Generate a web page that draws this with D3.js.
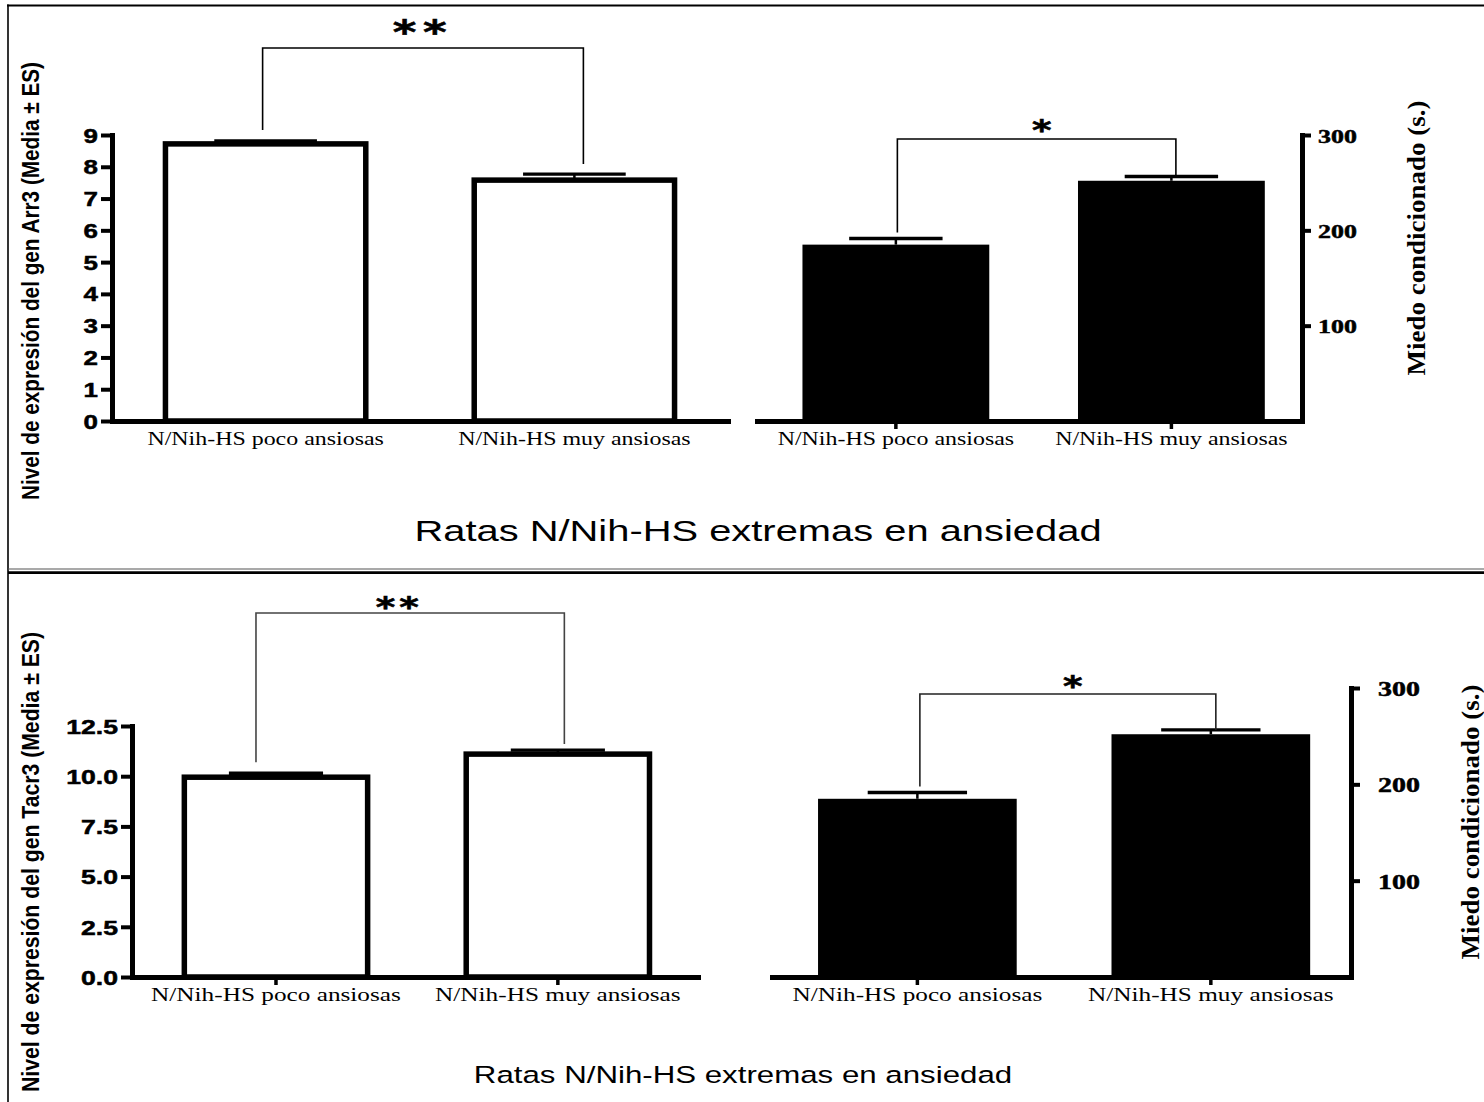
<!DOCTYPE html>
<html lang="es">
<head>
<meta charset="utf-8">
<title>Arr3 / Tacr3 y miedo condicionado</title>
<script src="https://cdn.jsdelivr.net/npm/d3@7"></script>
<style>
  html, body { margin: 0; padding: 0; background: #fff; }
  svg { display: block; }
</style>
</head>
<body>
<script>
// ---- data ----
const groups = ["N/Nih-HS poco ansiosas", "N/Nih-HS muy ansiosas"];
const arr3Mean = [8.72, 7.58];
const arr3Sem = [0.09, 0.19];
const tacr3Mean = [9.95, 11.1];
const tacr3Sem = [0.2, 0.2];
const fearMean = [185, 252];
const fearSem = [6.5, 4.5];
const arr3Ticks = [0, 1, 2, 3, 4, 5, 6, 7, 8, 9];
const tacr3Ticks = [0, 2.5, 5, 7.5, 10, 12.5];
const fearTicks = [100, 200, 300];
const arr3Label = "Nivel de expresión del gen Arr3 (Media ± ES)";
const tacr3Label = "Nivel de expresión del gen Tacr3 (Media ± ES)";
const fearLabel = "Miedo condicionado (s.)";
const groupTitle = "Ratas N/Nih-HS extremas en ansiedad";
const arr3Sig = "**";
const tacr3Sig = "**";
const fearSig = "*";

// ---- layout ----
const W = 1484, H = 1102;
const SX = 1.33;           // horizontal widening applied to all upright text
const SANS = "'Liberation Sans', Arial, Helvetica, sans-serif";
const SERIF = "'Liberation Serif', 'Times New Roman', Times, serif";
const STAR = "'DejaVu Sans', sans-serif";

const svg = d3.select("body").append("svg")
  .attr("width", W).attr("height", H)
  .attr("viewBox", `0 0 ${W} ${H}`);

svg.append("rect").attr("width", W).attr("height", H).attr("fill", "#fff");

// frame and divider between the two figures
svg.append("line").attr("x1", 7).attr("x2", W).attr("y1", 5.5).attr("y2", 5.5)
  .attr("stroke", "#000").attr("stroke-width", 2);
svg.append("line").attr("x1", 8).attr("x2", 8).attr("y1", 4.5).attr("y2", H)
  .attr("stroke", "#000").attr("stroke-width", 1.6);
svg.append("line").attr("x1", 8).attr("x2", W).attr("y1", 569).attr("y2", 569)
  .attr("stroke", "#555").attr("stroke-width", 1.2);
svg.append("line").attr("x1", 8).attr("x2", W).attr("y1", 572.6).attr("y2", 572.6)
  .attr("stroke", "#000").attr("stroke-width", 2.6);

function wideText(parent, str, cx, cy, opts) {
  return parent.append("text")
    .attr("transform", `translate(${cx},${cy}) scale(${opts.sx || SX},1)`)
    .attr("text-anchor", opts.anchor || "middle")
    .attr("font-family", opts.family)
    .attr("font-weight", opts.weight || "normal")
    .attr("font-size", opts.size)
    .attr("letter-spacing", opts.spacing || 0)
    .attr("stroke", opts.stroke ? "#000" : "none")
    .attr("stroke-width", opts.stroke || 0)
    .attr("fill", "#000")
    .text(str);
}

function verticalTitle(parent, str, cx, cy, opts) {
  return parent.append("text")
    .attr("transform", `translate(${cx},${cy}) scale(${opts.thick},1) rotate(-90)`)
    .attr("text-anchor", "middle")
    .attr("dominant-baseline", "central")
    .attr("font-family", opts.family)
    .attr("font-weight", "bold")
    .attr("font-size", opts.size)
    .attr("textLength", opts.length)
    .attr("lengthAdjust", "spacingAndGlyphs")
    .attr("fill", "#000")
    .text(str);
}

function drawPanel(p) {
  const g = svg.append("g");
  const x = d3.scaleBand().domain(groups)
    .range([p.x0, p.x1]).paddingInner(p.pi).paddingOuter(p.po).align(p.align);
  const y = d3.scaleLinear().domain([0, p.ticks[p.ticks.length - 1]])
    .range([p.yBase, p.yTop]);
  const bw = x.bandwidth();
  const cx = i => x(groups[i]) + bw / 2;

  // bars
  const inset = p.filled ? 0 : 2.5;
  g.selectAll("rect.bar").data(p.mean).join("rect")
    .attr("class", "bar")
    .attr("x", (d, i) => x(groups[i]) + inset)
    .attr("width", bw - 2 * inset)
    .attr("y", d => y(d))
    .attr("height", d => y(0) - y(d))
    .attr("fill", p.filled ? "#000" : "#fff")
    .attr("stroke", p.filled ? "none" : "#000")
    .attr("stroke-width", p.filled ? 0 : 5.5);

  // standard-error whiskers
  g.selectAll("line.stem").data(p.mean).join("line")
    .attr("x1", (d, i) => cx(i)).attr("x2", (d, i) => cx(i))
    .attr("y1", d => y(d)).attr("y2", (d, i) => y(d + p.sem[i]))
    .attr("stroke", "#000").attr("stroke-width", 2.5);
  g.selectAll("line.cap").data(p.mean).join("line")
    .attr("x1", (d, i) => cx(i) - bw / 4).attr("x2", (d, i) => cx(i) + bw / 4)
    .attr("y1", (d, i) => y(d + p.sem[i])).attr("y2", (d, i) => y(d + p.sem[i]))
    .attr("stroke", "#000").attr("stroke-width", 3.4);

  // category axis
  const xa = d3.axisBottom(x).tickSize(p.xTick).tickSizeOuter(0);
  const xg = g.append("g").attr("transform", `translate(0,${p.yBase})`).call(xa)
    .attr("font-family", null).attr("font-size", null);
  xg.select(".domain").attr("stroke-width", 5).attr("stroke-linecap", "square");
  xg.selectAll(".tick line").attr("stroke-width", 3.5);
  xg.selectAll(".tick text")
    .attr("y", 24).attr("dy", null)
    .attr("font-family", SERIF).attr("font-size", p.catSize).attr("fill", "#000")
    .attr("transform", `scale(${SX},1)`);

  // value axis
  const right = p.side === "right";
  const ya = (right ? d3.axisRight(y) : d3.axisLeft(y))
    .tickValues(p.ticks).tickFormat(p.fmt)
    .tickSize(p.tick).tickPadding(p.pad).tickSizeOuter(0);
  const yg = g.append("g").attr("transform", `translate(${right ? p.x1 : p.x0},0)`).call(ya)
    .attr("font-family", null).attr("font-size", null);
  yg.select(".domain").attr("stroke-width", 5).attr("stroke-linecap", "square");
  yg.selectAll(".tick line").attr("stroke-width", 4);
  yg.selectAll(".tick text")
    .attr("x", (right ? 1 : -1) * (p.tick + p.pad) / SX)
    .attr("dy", "0.36em")
    .attr("transform", `scale(${SX},1)`)
    .attr("font-family", right ? SERIF : SANS)
    .attr("font-weight", "bold")
    .attr("font-size", p.tickSize)
    .attr("stroke", "#000").attr("stroke-width", 0.5)
    .attr("fill", "#000");

  // significance bracket
  const b = p.bracket;
  const bx = [cx(0) + b.dx[0], cx(1) + b.dx[1]];
  const bottoms = [0, 1].map(i => y(p.mean[i] + p.sem[i]) - b.gap[i]);
  g.append("path")
    .attr("d", `M${bx[0]},${bottoms[0]}V${b.y}H${bx[1]}V${bottoms[1]}`)
    .attr("fill", "none").attr("stroke", b.color).attr("stroke-width", 1.6);
  wideText(g, p.sig, (bx[0] + bx[1]) / 2 + b.starDx, b.starY + 0.58 * b.starSize, {
    family: STAR, size: b.starSize, spacing: b.starGap, weight: "bold", stroke: 0.6
  });
}

drawPanel({
  mean: arr3Mean, sem: arr3Sem, ticks: arr3Ticks, fmt: d3.format("d"), sig: arr3Sig,
  side: "left", filled: false,
  x0: 112, x1: 728, yBase: 421, yTop: 135, pi: 0.335, po: 0.165, align: 0.5,
  tick: 11, pad: 3, tickSize: 19.5, xTick: 0, catSize: 18,
  bracket: { y: 48, dx: [-3, 9], gap: [11, 10], color: "#000",
             starY: 24, starSize: 34, starDx: 0, starGap: 5 }
});

drawPanel({
  mean: fearMean, sem: fearSem, ticks: fearTicks, fmt: d3.format("d"), sig: fearSig,
  side: "right", filled: true,
  x0: 757, x1: 1302, yBase: 421, yTop: 135, pi: 0.322, po: 0.15, align: 0.55,
  tick: 9, pad: 7, tickSize: 19.5, xTick: 8, catSize: 18,
  bracket: { y: 139, dx: [1.5, 4.5], gap: [6, 0], color: "#000",
             starY: 124, starSize: 28, starDx: 5, starGap: 0 }
});

drawPanel({
  mean: tacr3Mean, sem: tacr3Sem, ticks: tacr3Ticks, fmt: d3.format(".1f"), sig: tacr3Sig,
  side: "left", filled: false,
  x0: 132, x1: 698, yBase: 977, yTop: 726, pi: 0.332, po: 0.17, align: 0.52,
  tick: 11, pad: 3, tickSize: 20, xTick: 8, catSize: 19,
  bracket: { y: 613, dx: [-20, 6.5], gap: [11, 6], color: "#444",
             starY: 601, starSize: 28, starDx: -11, starGap: 3 }
});

drawPanel({
  mean: fearMean, sem: fearSem, ticks: fearTicks, fmt: d3.format("d"), sig: fearSig,
  side: "right", filled: true,
  x0: 772, x1: 1351, yBase: 977, yTop: 688, pi: 0.323, po: 0.148, align: 0.53,
  tick: 9, pad: 18, tickSize: 21, xTick: 8, catSize: 19,
  bracket: { y: 694, dx: [2.5, 5], gap: [6, 0], color: "#222",
             starY: 680, starSize: 28, starDx: 5, starGap: 0 }
});

// axis titles
verticalTitle(svg, arr3Label, 31, 281, { family: SANS, size: 21, length: 438, thick: 1.15 });
verticalTitle(svg, tacr3Label, 30, 862, { family: SANS, size: 21.5, length: 460, thick: 1.15 });
verticalTitle(svg, fearLabel, 1416, 238, { family: SERIF, size: 26, length: 275, thick: 1 });
verticalTitle(svg, fearLabel, 1470, 822, { family: SERIF, size: 26, length: 275, thick: 1 });

// figure headings
wideText(svg, groupTitle, 758, 541, { family: SANS, size: 30 });
wideText(svg, groupTitle, 743, 1083, { family: SANS, size: 23.5 });
</script>
</body>
</html>
